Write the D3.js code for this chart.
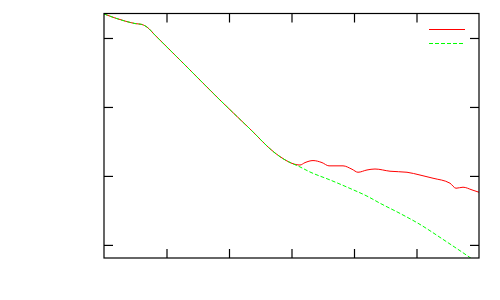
<!DOCTYPE html>
<html>
<head>
<meta charset="utf-8">
<script src="https://cdn.jsdelivr.net/npm/d3@7"></script>
<style>
	body { margin: 0; background: #fff; }
	svg { display: block; }
</style>
</head>
<body>
<svg id="chart"></svg>
<script>

// shared part of both curves, then the two branches
var commonX = [0, 0.176, 0.336, 0.496, 0.608, 0.688, 0.816, 1.296, 1.856, 2.336, 2.736, 2.896, 3.008];
var commonY = [2.23, 1.95, 1.76, 1.62, 1.57, 1.44, 1.10, 0.406, 0.126, 0.048, 0.0215, 0.0171, 0.0152];

var redX = [3.136, 3.216, 3.344, 3.488, 3.6, 3.824, 3.968, 4.064, 4.208, 4.336, 4.576, 4.848, 5.056, 5.264, 5.536, 5.632, 5.744, 5.888, 6];
var redY = [0.0144, 0.0156, 0.0167, 0.0156, 0.0140, 0.0140, 0.0125, 0.0113, 0.0122, 0.0126, 0.0117, 0.0113, 0.0103, 0.00926, 0.00784, 0.00663, 0.00686, 0.00627, 0.0058];

var greenX = [3.136, 3.296, 3.616, 3.936, 4.224, 4.416, 4.736, 5.024, 5.456, 5.856, 6];
var greenY = [0.0135, 0.0114, 0.00875, 0.00659, 0.00501, 0.00402, 0.00286, 0.00206, 0.00115, 0.000655, 0.00053];

var xTicks = [1, 2, 3, 4, 5];
var yTicks = [1, 0.1, 0.01, 0.001];

var width = 500,
	height = 300,
	margin = {left: 104, right: 21, top: 13.5, bottom: 42};

var svg = d3.select("#chart")
	.attr("width", width)
	.attr("height", height);

var x = d3.scaleLinear()
	.domain([0, 6])
	.range([margin.left, width - margin.right]);

var y = d3.scaleLog()
	.domain([Math.pow(10, -3.19), Math.pow(10, 0.355)])
	.range([height - margin.bottom, margin.top]);

var redData = commonX.concat(redX).map((d, i) => [d, commonY.concat(redY)[i]]);
var greenData = commonX.concat(greenX).map((d, i) => [d, commonY.concat(greenY)[i]]);

svg.append("clipPath")
	.attr("id", "plotclip")
	.append("rect")
	.attr("x", margin.left)
	.attr("y", margin.top)
	.attr("width", width - margin.left - margin.right)
	.attr("height", height - margin.top - margin.bottom);

var line = d3.line()
	.curve(d3.curveMonotoneX)
	.x(d => x(d[0]))
	.y(d => y(d[1]));

svg.append("path")
	.datum(redData)
	.attr("clip-path", "url(#plotclip)")
	.attr("fill", "none")
	.attr("stroke", "#ff0000")
	.attr("stroke-width", 1)
	.attr("d", line);

svg.append("path")
	.datum(greenData)
	.attr("clip-path", "url(#plotclip)")
	.attr("fill", "none")
	.attr("stroke", "#00ff00")
	.attr("stroke-width", 1)
	.attr("stroke-dasharray", "4,2")
	.attr("d", line);

// inward ticks on all four sides, no labels
function styleAxis(g) {
	g.select(".domain").remove();
	g.selectAll(".tick line").attr("stroke", "#000").attr("stroke-width", 1.2);
}

svg.append("g")
	.attr("transform", "translate(0," + (height - margin.bottom) + ")")
	.call(d3.axisBottom(x).tickValues(xTicks).tickSize(-9).tickFormat(""))
	.call(styleAxis);

svg.append("g")
	.attr("transform", "translate(0," + margin.top + ")")
	.call(d3.axisTop(x).tickValues(xTicks).tickSize(-9).tickFormat(""))
	.call(styleAxis);

svg.append("g")
	.attr("transform", "translate(" + margin.left + ",0)")
	.call(d3.axisLeft(y).tickValues(yTicks).tickSize(-9).tickFormat(""))
	.call(styleAxis);

svg.append("g")
	.attr("transform", "translate(" + (width - margin.right) + ",0)")
	.call(d3.axisRight(y).tickValues(yTicks).tickSize(-9).tickFormat(""))
	.call(styleAxis);

svg.append("rect")
	.attr("x", margin.left)
	.attr("y", margin.top)
	.attr("width", width - margin.left - margin.right)
	.attr("height", height - margin.top - margin.bottom)
	.attr("fill", "none")
	.attr("stroke", "#000")
	.attr("stroke-width", 1.2);

// legend keys (no titles)
var legend = svg.append("g");
legend.append("line")
	.attr("x1", 429).attr("x2", 465)
	.attr("y1", 29.5).attr("y2", 29.5)
	.attr("stroke", "#ff0000");
legend.append("line")
	.attr("x1", 429).attr("x2", 465)
	.attr("y1", 43.5).attr("y2", 43.5)
	.attr("stroke", "#00ff00")
	.attr("stroke-dasharray", "4,2");

</script>
</body>
</html>
